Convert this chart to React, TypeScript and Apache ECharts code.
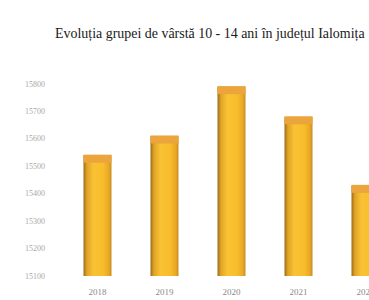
import React, { useEffect, useRef } from "react";
import * as echarts from "echarts";

const titleText = "Evoluția grupei de vârstă 10 - 14 ani în județul Ialomița";
const years = ["2018", "2019", "2020", "2021", "2022"];
const values = [15540, 15610, 15790, 15680, 15430];
const yMin = 15100;
const yMax = 15800;
const yStep = 100;

export default function App() {
  const ref = useRef<HTMLDivElement>(null);
  useEffect(() => {
    document.body.style.margin = "0";
    if (!ref.current) return;
    const chart = echarts.init(ref.current, null, { renderer: "svg" });
    const bodyGrad = new echarts.graphic.LinearGradient(0, 0, 1, 0, [
      { offset: 0, color: "#9a6a1c" },
      { offset: 0.12, color: "#e0a326" },
      { offset: 0.35, color: "#f9c234" },
      { offset: 0.7, color: "#f8bd2c" },
      { offset: 0.9, color: "#eaa826" },
      { offset: 1, color: "#c98d22" },
    ]);
    chart.setOption({
      animation: false,
      backgroundColor: "#ffffff",
      graphic: [
        {
          type: "text",
          x: 55,
          y: 25,
          scaleX: 0.93,
          style: {
            text: titleText,
            font: "15px 'Liberation Serif', serif",
            fill: "#1a1a1a",
          },
        },
      ],
      grid: { left: 64, top: 84, width: 335, height: 192 },
      xAxis: {
        type: "category",
        data: years,
        axisLine: { show: false },
        axisTick: { show: false },
        axisLabel: {
          color: "#8a8a8a",
          fontFamily: "Liberation Serif",
          fontSize: 9,
          margin: 11,
        },
      },
      yAxis: {
        type: "value",
        min: yMin,
        max: yMax,
        interval: yStep,
        axisLine: { show: false },
        axisTick: { show: false },
        splitLine: { show: false },
        axisLabel: {
          color: "#a8a8a8",
          fontFamily: "Liberation Serif",
          fontSize: 8,
          margin: 19,
          formatter: (v: number) => String(v),
        },
      },
      series: [
        {
          type: "bar",
          data: values,
          barWidth: 28,
          itemStyle: { color: bodyGrad },
          z: 2,
        },
        {
          type: "pictorialBar",
          data: values,
          symbol: "ellipse",
          symbolSize: [28, 8],
          symbolPosition: "end",
          symbolOffset: [0, "-10%"],
          itemStyle: { color: "#eba53c", borderColor: "#c98a2a", borderWidth: 0.6 },
          z: 3,
        },
      ],
    });
    return () => chart.dispose();
  }, []);
  return (
    <div style={{ width: 369, height: 300, overflow: "hidden" }}>
      <div ref={ref} style={{ width: 400, height: 300 }} />
    </div>
  );
}
